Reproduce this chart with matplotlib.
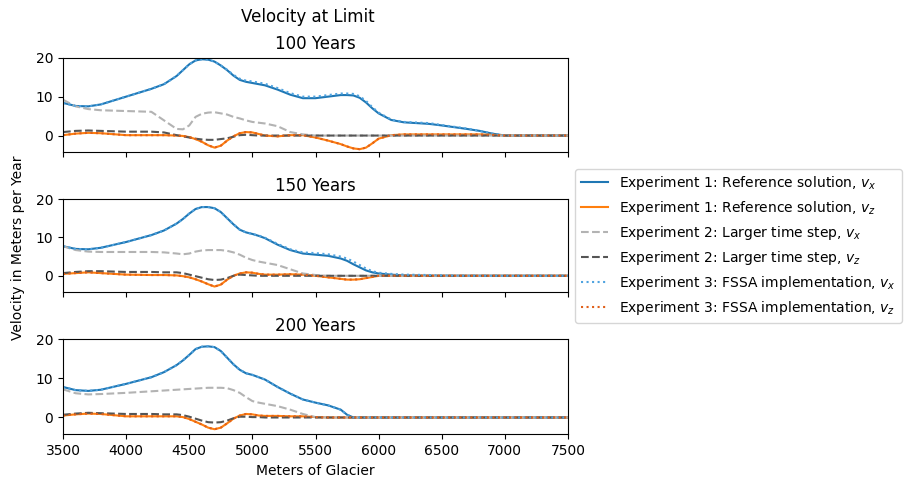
import numpy as np
import matplotlib
matplotlib.use("Agg")
import matplotlib.pyplot as plt

# ---------------- data ----------------
x_m = [3500, 3600, 3700, 3800, 4000, 4200, 4300, 4400, 4450, 4500,
       4550, 4600, 4650, 4700, 4750, 4800, 4850, 4900, 4950, 5000,
       5050, 5100, 5200, 5300, 5400, 5500, 5600, 5700, 5750, 5800,
       5850, 5900, 5950, 6000, 6100, 6200, 6400, 6500, 6700, 6800,
       6900, 7000, 7500]

panel_titles = ["100 Years", "150 Years", "200 Years"]

# 100 years
vx1_100 = [8.4, 7.6, 7.5, 8.0, 10.0, 12.0, 13.2, 15.3, 16.8, 18.3,
           19.3, 19.6, 19.5, 19.0, 18.0, 16.8, 15.4, 14.3, 13.8, 13.5,
           13.2, 12.9, 11.8, 10.5, 9.6, 9.6, 10.0, 10.4, 10.4, 10.3,
           9.7, 8.5, 7.0, 5.7, 4.0, 3.4, 3.0, 2.6, 1.7, 1.2,
           0.5, 0.0, 0.0]
vz1_100 = [0.1, 0.5, 0.7, 0.6, 0.1, 0.1, 0.1, 0.0, -0.1, -0.4,
           -0.9, -1.6, -2.5, -3.1, -2.6, -1.3, -0.2, 0.6, 0.9, 0.8,
           0.4, 0.0, -0.2, 0.1, 0.1, -0.5, -1.3, -2.2, -2.8, -3.3,
           -3.5, -3.1, -2.0, -0.8, 0.1, 0.3, 0.3, 0.3, 0.3, 0.3,
           0.2, 0.0, 0.0]
vx2_100 = [9.2, 7.5, 6.8, 6.5, 6.3, 6.1, 3.9, 1.7, 1.6, 2.6,
           4.8, 5.6, 5.9, 6.0, 5.7, 5.4, 4.8, 4.4, 3.9, 3.5,
           3.3, 3.1, 2.4, 0.9, 0.3, 0.0, 0.0, 0.0, 0.0, 0.0,
           0.0, 0.0, 0.0, 0.0, 0.0, 0.0, 0.0, 0.0, 0.0, 0.0,
           0.0, 0.0, 0.0]
vz2_100 = [0.9, 1.2, 1.3, 1.2, 1.0, 1.0, 0.8, 0.1, -0.2, -0.5,
           -0.8, -1.0, -1.1, -1.1, -0.9, -0.7, -0.3, 0.1, 0.2, 0.1,
           0.0, 0.0, 0.0, 0.0, 0.0, 0.0, 0.0, 0.0, 0.0, 0.0,
           0.0, 0.0, 0.0, 0.0, 0.0, 0.0, 0.0, 0.0, 0.0, 0.0,
           0.0, 0.0, 0.0]
vx3_100 = [8.4, 7.6, 7.5, 8.0, 10.0, 12.0, 13.2, 15.3, 16.8, 18.3,
           19.3, 19.6, 19.5, 19.0, 18.0, 16.9, 15.6, 14.6, 14.1, 13.9,
           13.6, 13.3, 12.2, 10.9, 10.0, 10.0, 10.4, 10.8, 10.8, 10.7,
           10.1, 8.9, 7.3, 5.9, 4.1, 3.5, 3.2, 2.7, 1.8, 1.2,
           0.5, 0.0, 0.0]
vz3_100 = [0.1, 0.5, 0.7, 0.6, 0.1, 0.1, 0.1, 0.0, -0.1, -0.4,
           -0.9, -1.6, -2.5, -3.1, -2.6, -1.3, -0.2, 0.6, 0.9, 0.8,
           0.4, 0.0, -0.2, 0.1, 0.1, -0.5, -1.3, -2.2, -2.8, -3.3,
           -3.5, -3.1, -2.0, -0.8, 0.1, 0.3, 0.3, 0.3, 0.3, 0.3,
           0.2, 0.0, 0.0]

# 150 years
vx1_150 = [7.7, 7.0, 6.9, 7.3, 8.8, 10.6, 11.8, 13.6, 14.8, 16.2,
           17.4, 17.9, 17.9, 17.6, 16.6, 15.0, 13.4, 12.0, 11.3, 10.9,
           10.4, 9.8, 8.1, 6.7, 5.8, 5.5, 5.2, 4.5, 3.9, 3.0,
           2.2, 1.4, 0.9, 0.6, 0.3, 0.1, 0.0, 0.0, 0.0, 0.0,
           0.0, 0.0, 0.0]
vz1_150 = [0.5, 0.7, 0.9, 0.7, 0.3, 0.2, 0.2, 0.1, -0.1, -0.4,
           -0.9, -1.5, -2.2, -2.8, -2.3, -1.0, 0.0, 0.6, 0.9, 0.8,
           0.5, 0.3, 0.3, 0.4, 0.3, 0.0, -0.4, -0.8, -1.0, -1.0,
           -0.9, -0.6, -0.3, 0.0, 0.0, 0.0, 0.0, 0.0, 0.0, 0.0,
           0.0, 0.0, 0.0]
vx2_150 = [7.7, 6.7, 6.3, 6.2, 6.2, 6.2, 6.1, 5.8, 5.6, 5.8,
           6.3, 6.6, 6.7, 6.7, 6.7, 6.5, 6.1, 5.5, 4.7, 4.1,
           3.7, 3.4, 2.8, 1.7, 0.6, 0.2, 0.0, 0.0, 0.0, 0.0,
           0.0, 0.0, 0.0, 0.0, 0.0, 0.0, 0.0, 0.0, 0.0, 0.0,
           0.0, 0.0, 0.0]
vz2_150 = [0.7, 1.0, 1.2, 1.2, 1.0, 1.0, 0.9, 0.9, 0.7, 0.3,
           -0.1, -0.5, -0.9, -1.1, -1.0, -0.6, 0.0, 0.3, 0.2, 0.1,
           0.0, 0.0, 0.0, 0.0, 0.0, 0.0, 0.0, 0.0, 0.0, 0.0,
           0.0, 0.0, 0.0, 0.0, 0.0, 0.0, 0.0, 0.0, 0.0, 0.0,
           0.0, 0.0, 0.0]
vx3_150 = [7.7, 7.0, 6.9, 7.3, 8.8, 10.6, 11.8, 13.6, 14.8, 16.2,
           17.4, 17.9, 17.9, 17.6, 16.6, 15.0, 13.4, 12.0, 11.3, 10.9,
           10.5, 9.9, 8.3, 6.9, 6.1, 5.9, 5.6, 5.0, 4.5, 3.7,
           2.8, 1.9, 1.2, 0.8, 0.5, 0.3, 0.2, 0.1, 0.0, 0.0,
           0.0, 0.0, 0.0]
vz3_150 = [0.5, 0.7, 0.9, 0.7, 0.3, 0.2, 0.2, 0.1, -0.1, -0.4,
           -0.9, -1.5, -2.2, -2.8, -2.3, -1.0, 0.0, 0.6, 0.9, 0.8,
           0.5, 0.3, 0.3, 0.4, 0.3, 0.0, -0.4, -0.8, -1.0, -1.0,
           -0.9, -0.6, -0.3, 0.0, 0.0, 0.0, 0.0, 0.0, 0.0, 0.0,
           0.0, 0.0, 0.0]

# 200 years
vx1_200 = [7.8, 7.0, 6.8, 7.1, 8.6, 10.3, 11.6, 13.4, 14.6, 16.0,
           17.5, 18.1, 18.2, 18.0, 17.0, 15.3, 13.6, 12.2, 11.3, 10.9,
           10.3, 9.7, 7.8, 6.1, 4.6, 3.8, 3.1, 2.0, 0.7, 0.0,
           0.0, 0.0, 0.0, 0.0, 0.0, 0.0, 0.0, 0.0, 0.0, 0.0,
           0.0, 0.0, 0.0]
vz1_200 = [0.5, 0.8, 1.0, 0.9, 0.3, 0.3, 0.3, 0.3, 0.1, -0.4,
           -1.1, -1.8, -2.6, -3.0, -2.6, -1.5, -0.3, 0.5, 0.9, 0.8,
           0.5, 0.4, 0.4, 0.3, 0.3, 0.1, 0.0, 0.0, 0.0, 0.0,
           0.0, 0.0, 0.0, 0.0, 0.0, 0.0, 0.0, 0.0, 0.0, 0.0,
           0.0, 0.0, 0.0]
vx2_200 = [7.2, 6.2, 5.9, 6.0, 6.3, 6.7, 6.9, 7.1, 7.2, 7.3,
           7.4, 7.5, 7.6, 7.6, 7.6, 7.5, 7.0, 6.3, 5.2, 4.2,
           3.8, 3.5, 2.9, 2.0, 0.9, 0.1, 0.0, 0.0, 0.0, 0.0,
           0.0, 0.0, 0.0, 0.0, 0.0, 0.0, 0.0, 0.0, 0.0, 0.0,
           0.0, 0.0, 0.0]
vz2_200 = [0.7, 1.0, 1.2, 1.1, 0.9, 0.9, 0.8, 0.8, 0.6, 0.2,
           -0.3, -0.8, -1.2, -1.3, -1.2, -0.8, -0.2, 0.2, 0.2, 0.1,
           0.1, 0.0, 0.0, 0.0, 0.0, 0.0, 0.0, 0.0, 0.0, 0.0,
           0.0, 0.0, 0.0, 0.0, 0.0, 0.0, 0.0, 0.0, 0.0, 0.0,
           0.0, 0.0, 0.0]
vx3_200 = [7.8, 7.0, 6.8, 7.1, 8.6, 10.3, 11.6, 13.4, 14.6, 16.0,
           17.5, 18.1, 18.2, 18.0, 17.0, 15.3, 13.6, 12.2, 11.3, 10.9,
           10.3, 9.7, 7.8, 6.1, 4.6, 3.8, 3.1, 2.0, 0.7, 0.0,
           0.0, 0.0, 0.0, 0.0, 0.0, 0.0, 0.0, 0.0, 0.0, 0.0,
           0.0, 0.0, 0.0]
vz3_200 = [0.5, 0.8, 1.0, 0.9, 0.3, 0.3, 0.3, 0.3, 0.1, -0.4,
           -1.1, -1.8, -2.6, -3.0, -2.6, -1.5, -0.3, 0.5, 0.9, 0.8,
           0.5, 0.4, 0.4, 0.3, 0.3, 0.1, 0.0, 0.0, 0.0, 0.0,
           0.0, 0.0, 0.0, 0.0, 0.0, 0.0, 0.0, 0.0, 0.0, 0.0,
           0.0, 0.0, 0.0]

series_labels = [r"Experiment 1: Reference solution, $v_x$",
                 r"Experiment 1: Reference solution, $v_z$",
                 r"Experiment 2: Larger time step, $v_x$",
                 r"Experiment 2: Larger time step, $v_z$",
                 r"Experiment 3: FSSA implementation, $v_x$",
                 r"Experiment 3: FSSA implementation, $v_z$"]

panels = [
    [vx1_100, vz1_100, vx2_100, vz2_100, vx3_100, vz3_100],
    [vx1_150, vz1_150, vx2_150, vz2_150, vx3_150, vz3_150],
    [vx1_200, vz1_200, vx2_200, vz2_200, vx3_200, vz3_200],
]

styles = [
    dict(color="#1f77b4", ls="-", lw=1.5),
    dict(color="#ff7f0e", ls="-", lw=1.5),
    dict(color="#b3b3b3", ls="--", lw=1.5),
    dict(color="#555555", ls="--", lw=1.5),
    dict(color="#4fa3e0", ls=":", lw=1.5),
    dict(color="#e0601a", ls=":", lw=1.5),
]

# ---------------- figure ----------------
fig = plt.figure(figsize=(9.07, 4.82), dpi=100)
left, width = 63 / 907, (568 - 63) / 907
tops = [57.7, 199.0, 339.3]
bottoms = [152.3, 292.3, 434.3]
axes = []
for i in range(3):
    b = 1 - bottoms[i] / 482
    h = (bottoms[i] - tops[i]) / 482
    ax = fig.add_axes([left, b, width, h], sharex=axes[0] if axes else None)
    axes.append(ax)

for ax, data, title in zip(axes, panels, panel_titles):
    for vals, st, lab in zip(data, styles, series_labels):
        ax.plot(x_m, vals, label=lab, **st)
    ax.set_title(title, fontsize=12)
    ax.set_xlim(3500, 7500)
    ax.set_ylim(-4.3, 20.0)
    ax.set_yticks([0, 10, 20])

for ax in axes[:2]:
    ax.tick_params(labelbottom=False)
axes[2].set_xticks([3500, 4000, 4500, 5000, 5500, 6000, 6500, 7000, 7500])
axes[2].set_xlabel("Meters of Glacier")

axes[1].legend(loc="center left", bbox_to_anchor=(1.0, 0.5), fontsize=10)

fig.text(307.5 / 907, 1 - 16.7 / 482, "Velocity at Limit", fontsize=12,
         ha="center", va="center")
fig.text(18 / 907, 1 - 248 / 482, "Velocity in Meters per Year", fontsize=10,
         rotation=90, ha="center", va="center")

fig.savefig("out.png", dpi=100)
